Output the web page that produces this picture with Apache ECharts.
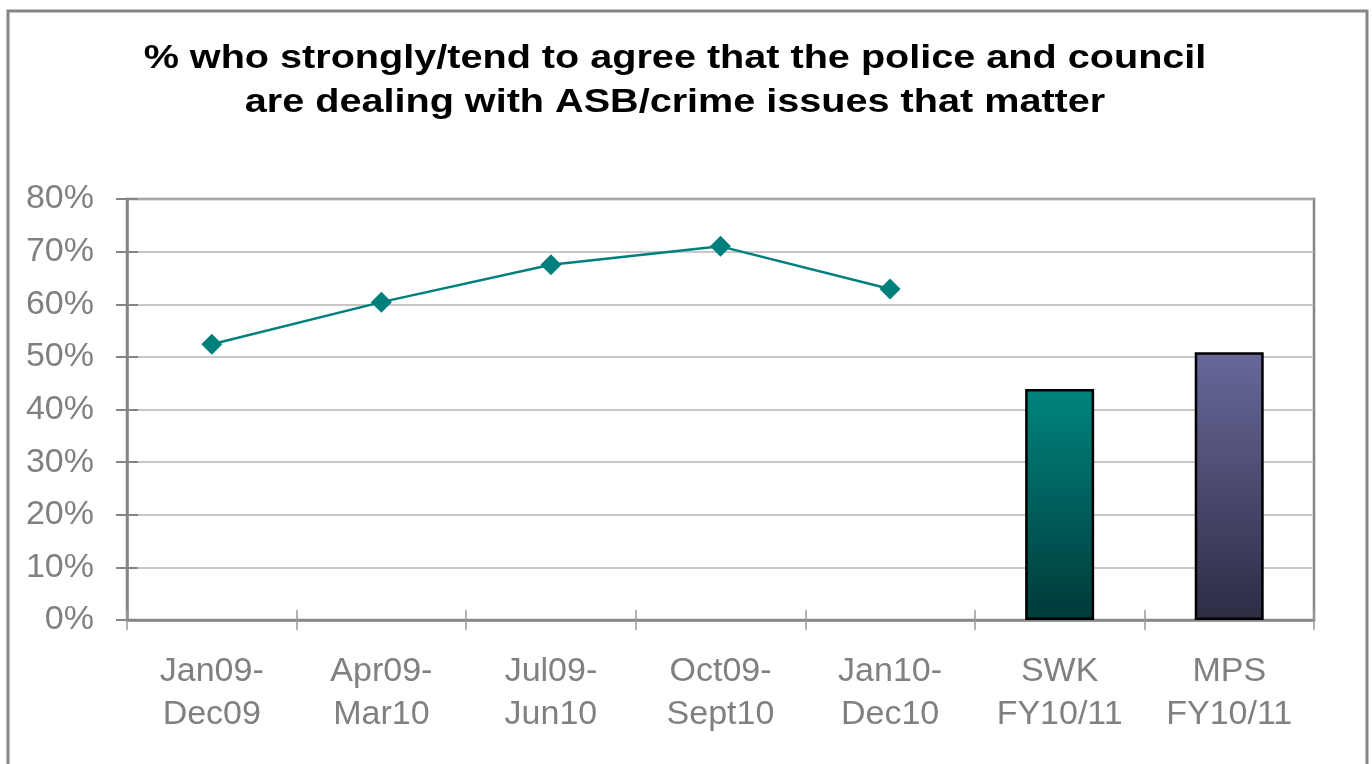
<!DOCTYPE html>
<html>
<head>
<meta charset="utf-8">
<script src="https://cdn.jsdelivr.net/npm/echarts@6/dist/echarts.min.js"></script>
<style>
  html, body { margin: 0; padding: 0; background: #ffffff; }
  #chart { width: 1372px; height: 764px; }
</style>
</head>
<body>
<div id="chart"></div>
<script>
// Survey periods and the two FY comparison bars
const categories = [
  'Jan09-\nDec09', 'Apr09-\nMar10', 'Jul09-\nJun10', 'Oct09-\nSept10',
  'Jan10-\nDec10', 'SWK\nFY10/11', 'MPS\nFY10/11'
];
// Rolling-year trend (%), only for the first five periods
const trendValues = [52.4, 60.4, 67.5, 71.0, 62.9, null, null];
// Financial-year comparison (%)
const fyValues = [null, null, null, null, null, 43.9, 50.9];
const yTicks = { min: 0, max: 80, interval: 10 };

const titleText = '% who strongly/tend to agree that the police and council\nare dealing with ASB/crime issues that matter';

const gridBox = { left: 127, top: 199, right: 58, bottom: 144 };
const labelFont = 'Liberation Sans, Arial, sans-serif';

function vGrad(top, bottom) {
  return new echarts.graphic.LinearGradient(0, 0, 0, 1, [
    { offset: 0, color: top },
    { offset: 1, color: bottom }
  ]);
}
const barFills = [null, null, null, null, null,
  vGrad('#00847e', '#003a3a'),
  vGrad('#68689b', '#2d2c44')
];

const chart = echarts.init(document.getElementById('chart'), null, { renderer: 'canvas' });

chart.setOption({
  animation: false,
  backgroundColor: '#ffffff',
  graphic: [{
    // outer frame of the chart
    type: 'rect',
    shape: { x: 8, y: 11, width: 1359, height: 780 },
    style: { fill: 'none', stroke: '#858585', lineWidth: 3 },
    silent: true,
    z: 0
  }, {
    // heading, set wide
    type: 'text',
    x: 675,
    y: 37,
    scaleX: 1.2,
    silent: true,
    style: {
      text: titleText,
      fill: '#000000',
      fontFamily: labelFont,
      fontSize: 33,
      fontWeight: 'bold',
      lineHeight: 44,
      textAlign: 'center',
      textVerticalAlign: 'top'
    },
    z: 5
  }],
  grid: Object.assign({
    show: true,
    borderColor: '#858585',
    borderWidth: 2.5,
    backgroundColor: 'transparent'
  }, gridBox),
  xAxis: [{
    type: 'category',
    data: categories,
    boundaryGap: true,
    axisLine: { show: true, lineStyle: { color: '#858585', width: 2.5 } },
    axisTick: { show: true, length: 10, lineStyle: { color: '#999999', width: 1.5 } },
    axisLabel: {
      color: '#808080',
      fontFamily: labelFont,
      fontSize: 34,
      lineHeight: 43,
      margin: 30
    },
    splitLine: { show: false }
  }, {
    // inner half of the category ticks
    type: 'category',
    data: categories,
    position: 'bottom',
    boundaryGap: true,
    axisLine: { show: false },
    axisTick: { show: true, inside: true, length: 10, lineStyle: { color: '#999999', width: 1.5 } },
    axisLabel: { show: false },
    splitLine: { show: false }
  }],
  yAxis: [{
    type: 'value',
    min: yTicks.min,
    max: yTicks.max,
    interval: yTicks.interval,
    axisLine: { show: true, lineStyle: { color: '#858585', width: 2.5 } },
    axisTick: { show: true, length: 11, lineStyle: { color: '#858585', width: 2 } },
    axisLabel: {
      formatter: '{value}%',
      color: '#808080',
      fontFamily: labelFont,
      fontSize: 34,
      margin: 33
    },
    splitLine: { show: true, lineStyle: { color: '#b4b4b4', width: 1.5 } }
  }, {
    // inner half of the value ticks
    type: 'value',
    position: 'left',
    min: yTicks.min,
    max: yTicks.max,
    interval: yTicks.interval,
    axisLine: { show: false },
    axisTick: { show: true, inside: true, length: 11, lineStyle: { color: '#858585', width: 2 } },
    axisLabel: { show: false },
    splitLine: { show: false }
  }],
  series: [{
    name: 'FY',
    type: 'bar',
    data: fyValues.map((v, i) => v === null ? null : {
      value: v,
      itemStyle: { color: barFills[i] }
    }),
    barWidth: 69,
    itemStyle: { borderColor: '#000000', borderWidth: 2.5 },
    z: 3
  }, {
    name: 'Trend',
    type: 'line',
    data: trendValues,
    connectNulls: false,
    symbol: 'diamond',
    symbolSize: [21, 21],
    lineStyle: { color: '#00807c', width: 2.5 },
    itemStyle: { color: '#00807c' },
    z: 4
  }]
});
</script>
</body>
</html>
